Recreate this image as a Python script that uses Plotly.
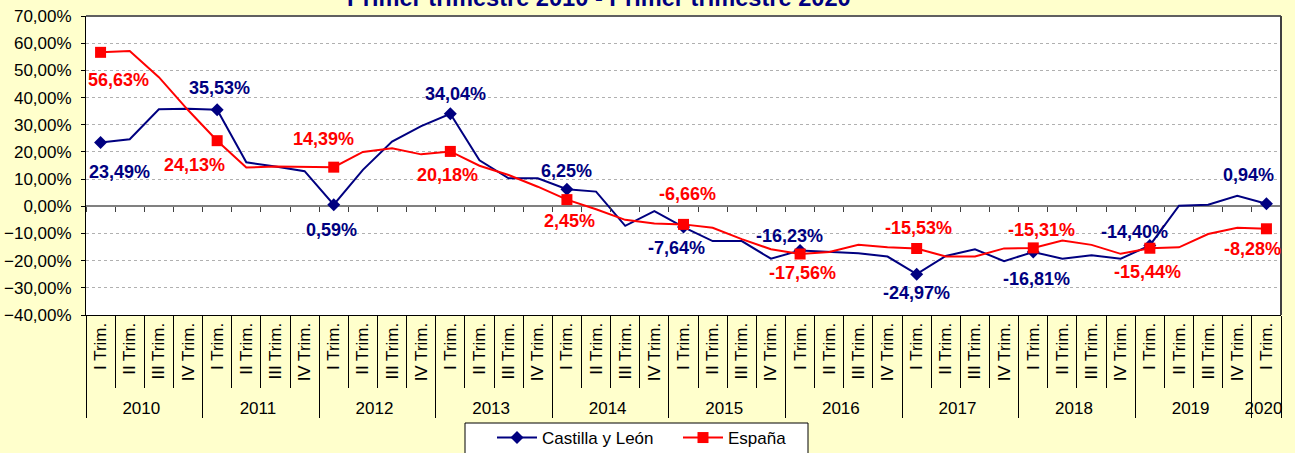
import plotly.graph_objects as go

# ---------------- data ----------------
year_names = ["2010", "2011", "2012", "2013", "2014", "2015", "2016", "2017", "2018", "2019", "2020"]
quarter_names = ["I Trim.", "II Trim.", "III Trim.", "IV Trim."]

years = [y for y in year_names for _ in quarter_names][:41]
quarters = [q for _ in year_names for q in quarter_names][:41]

castilla = [23.49, 24.65, 35.70, 35.90,
            35.53, 16.20, 14.60, 12.90,
            0.59, 13.40, 23.80, 29.50,
            34.04, 16.90, 10.30, 10.30,
            6.25, 5.40, -7.20, -1.80,
            -7.64, -12.80, -12.80, -19.30,
            -16.23, -16.80, -17.30, -18.50,
            -24.97, -18.30, -15.80, -20.20,
            -16.81, -19.30, -18.00, -19.30,
            -14.40, 0.20, 0.60, 3.90,
            0.94]

espana = [56.63, 57.10, 47.50, 35.40,
          24.13, 14.30, 14.60, 14.40,
          14.39, 20.00, 21.30, 19.10,
          20.18, 14.90, 11.50, 7.20,
          2.45, -1.10, -5.00, -6.30,
          -6.66, -7.90, -12.10, -15.80,
          -17.56, -16.80, -14.20, -15.10,
          -15.53, -18.50, -18.50, -15.50,
          -15.31, -12.60, -14.20, -17.50,
          -15.44, -15.10, -10.20, -7.90,
          -8.28]

series_names = ["Castilla y León", "España"]
title_text = "Primer trimestre 2010 - Primer trimestre 2020"

# ---------------- styling ----------------
NAVY = "#000080"
RED = "#FF0000"
CLEAR = "rgba(0,0,0,0)"
FONT = "Arial, Liberation Sans, sans-serif"
Y_RANGE = [-40, 70]
n = len(castilla)

# plot-area geometry (px) in the 1295x453 figure
L, R, T, B = 86, 14, 16, 138
PW, PH = 1295 - L - R, 453 - T - B

# label offsets (px) for the data labels on the first-quarter points: (dx, dy_down)
cyl_offsets = [(19, 30), (2, -22), (-2, 25), (5, -20), (0, -18), (-7, 21),
               (-11, -14), (0, 19), (3, 27), (-15, -13), (-18, -29)]
esp_offsets = [(18, 28), (-23, 24), (-10, -28), (-3, 24), (3, 21), (4, -30),
               (2, 19), (2, -20), (8, -18), (-2, 24), (-14, 20)]

is_q1 = [q == quarter_names[0] for q in quarters]

fig = go.Figure()

fig.add_trace(go.Scatter(
    x=[years, quarters], y=castilla, name=series_names[0],
    mode="lines+markers",
    line=dict(color=NAVY, width=2),
    marker=dict(symbol="diamond", size=10, opacity=1,
                color=[NAVY if f else CLEAR for f in is_q1],
                line=dict(width=0)),
    cliponaxis=False, hoverinfo="skip",
))
fig.add_trace(go.Scatter(
    x=[years, quarters], y=espana, name=series_names[1],
    mode="lines+markers",
    line=dict(color=RED, width=2),
    marker=dict(symbol="square", size=11, opacity=1,
                color=[RED if f else CLEAR for f in is_q1],
                line=dict(width=0)),
    cliponaxis=False, hoverinfo="skip",
))

# invisible helper trace for the tick marks on the zero line
fig.add_trace(go.Scatter(
    x=list(range(n)), y=castilla, xaxis="x2", yaxis="y",
    mode="lines", line=dict(width=0), opacity=0,
    showlegend=False, hoverinfo="skip",
))


def fmt(v):
    return f"{v:.2f}".replace(".", ",") + "%"


annotations = []
q1_idx = [i for i, f in enumerate(is_q1) if f]
for k, i in enumerate(q1_idx):
    for vals, offs, col in ((castilla, cyl_offsets, NAVY), (espana, esp_offsets, RED)):
        dx, dy = offs[k]
        annotations.append(dict(
            x=i, y=vals[i], xref="x", yref="y", text=fmt(vals[i]),
            showarrow=False, xanchor="center", yanchor="middle",
            xshift=dx, yshift=-dy,
            font=dict(family=FONT, size=18, color=col, weight="bold"),
        ))

annotations.append(dict(
    x=(599 - L) / PW, y=1, xref="paper", yref="paper", text="<b>" + title_text + "</b>",
    showarrow=False, xanchor="center", yanchor="bottom", yshift=3,
    font=dict(family=FONT, size=23.6, color=NAVY),
))

# legend box (drawn as a frame, legend itself is transparent)
box_l, box_r, box_t, box_b = 465, 808, 423, 460

fig.update_layout(
    width=1295, height=453,
    margin=dict(l=L, r=R, t=T, b=B, autoexpand=False),
    paper_bgcolor="#FFFFCC",
    plot_bgcolor="#FFFFFF",
    separators=",.",
    font=dict(family=FONT, size=17, color="#000000"),
    showlegend=True,
    legend=dict(
        orientation="h", xref="container", yref="container",
        x=492 / 1295, xanchor="left",
        y=1 - 420 / 453, yanchor="top",
        bgcolor=CLEAR, borderwidth=0,
        font=dict(family=FONT, size=17, color="#000000"),
        entrywidth=131, itemwidth=40,
    ),
    annotations=annotations,
    xaxis=dict(
        type="multicategory", automargin=False,
        showline=True, linecolor="#000000", linewidth=1,
        ticks="outside", ticklen=72, tickcolor="#000000", tickwidth=1,
        tickson="boundaries",
        tickangle=-90,
        tickfont=dict(family=FONT, size=17, color="#000000"),
        showdividers=True, dividercolor="#000000", dividerwidth=1,
        showgrid=False, zeroline=False,
        range=[-0.5, n - 0.5],
    ),
    xaxis2=dict(
        overlaying="x", anchor="free", side="bottom", automargin=False,
        position=(0 - Y_RANGE[0]) / (Y_RANGE[1] - Y_RANGE[0]),
        range=[-0.5, n - 0.5], tickmode="linear", tick0=0.5, dtick=1,
        ticks="outside", ticklen=5, tickcolor="#404040", tickwidth=1,
        showticklabels=False, showgrid=False, zeroline=False, showline=False,
    ),
    yaxis=dict(
        range=Y_RANGE, dtick=10, tick0=0, automargin=False,
        tickformat=".2f", ticksuffix="%",
        showline=True, linecolor="#000000", linewidth=1,
        ticks="outside", ticklen=4, tickcolor="#000000",
        ticklabelstandoff=6,
        showgrid=True, gridcolor="#B0B0B0", gridwidth=1, griddash="dot",
        zeroline=True, zerolinecolor="#808080", zerolinewidth=2,
        tickfont=dict(family=FONT, size=17, color="#000000"),
    ),
    shapes=[
        dict(type="line", xref="paper", yref="paper", x0=0, x1=1, y0=1, y1=1,
             line=dict(color="#606060", width=2), layer="above"),
        dict(type="line", xref="paper", yref="paper", x0=1, x1=1, y0=0, y1=1,
             line=dict(color="#404040", width=2), layer="above"),
        dict(type="rect", xref="paper", yref="paper",
             x0=(box_l - L) / PW, x1=(box_r - L) / PW,
             y0=(T + PH - box_b) / PH, y1=(T + PH - box_t) / PH,
             line=dict(color="#000000", width=1), fillcolor="#FFFFFF", layer="above"),
    ],
)

fig.write_html("out.html", config={"displayModeBar": False},
               post_script="document.body.style.margin='0';")
